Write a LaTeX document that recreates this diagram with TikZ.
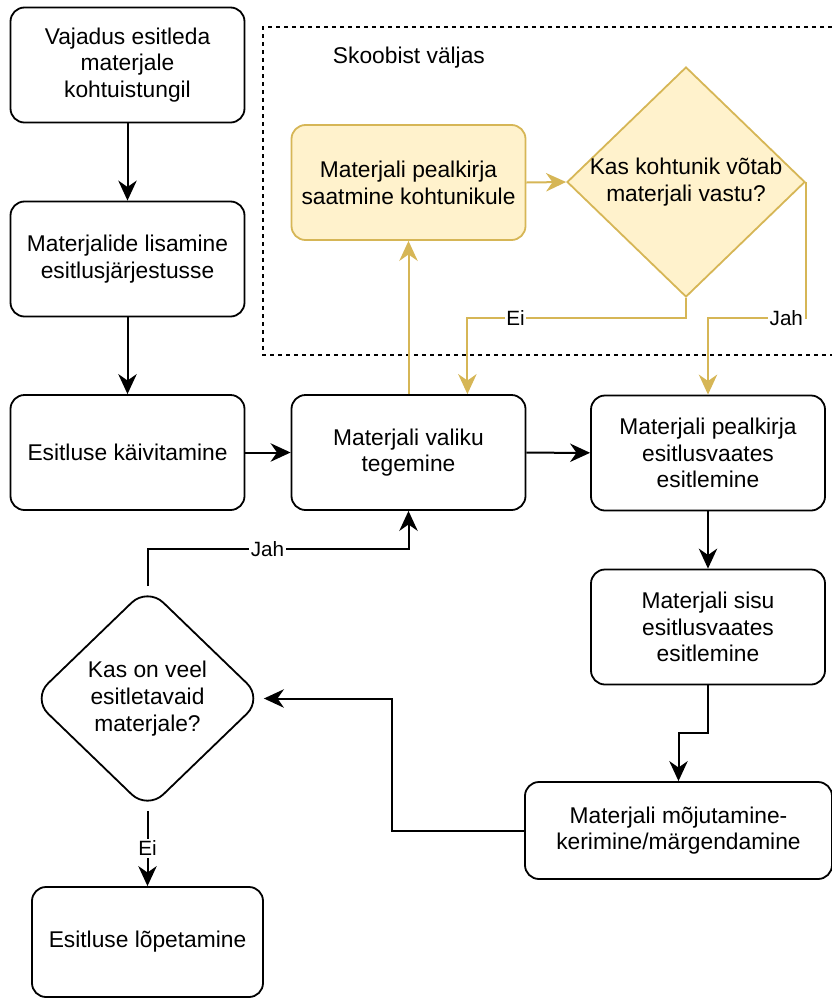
\documentclass[tikz,border=0pt]{standalone}
\usepackage{fontspec}
\setmainfont{Liberation Sans}
\usepackage{xcolor}
\usetikzlibrary{shapes.geometric,arrows.meta,positioning,calc}
\definecolor{gold}{HTML}{D6B656}
\definecolor{goldfill}{HTML}{FFF2CC}
\newcommand{\mainsize}{\fontsize{16.2}{19}\selectfont}
\newcommand{\labelsize}{\fontsize{14.7}{17}\selectfont}

\begin{document}
\begin{tikzpicture}[x=0.25mm, y=-0.25mm,
    stepbox/.style={draw, line width=0.45mm, rounded corners=3.5mm, align=center, inner sep=0pt,
        minimum width=58.5mm, minimum height=28.75mm, font=\mainsize},
    askbox/.style={draw, diamond, line width=0.45mm, align=center, inner sep=-3mm, font=\mainsize},
    outbox/.style={stepbox, draw=gold, fill=goldfill},
    flow/.style={draw, line width=0.5mm, -{Stealth[length=5mm, width=4.6mm, inset=1.6mm]}},
    outflow/.style={flow, draw=gold, color=gold},
    edgelabel/.style={fill=white, inner sep=0.4mm, font=\labelsize, text=black}]
    \useasboundingbox (0,0) rectangle (832,999);

    % Skoobist valjas
    \draw[line width=0.45mm, dash pattern=on 1mm off 1mm] (832,27) -- (263,27) -- (263,355) -- (832,355);
    \node[anchor=west, font=\mainsize] (skoop) at (328,58) {Skoobist väljas};
    \node[outbox] (saatmine) at (408.5,182.5) {Materjali pealkirja\\saatmine kohtunikule};
    \node[askbox, draw=gold, fill=goldfill, aspect=1.035, minimum width=59.5mm, minimum height=57.5mm]
        (votab) at (686,182) {Kas kohtunik võtab\\materjali vastu?};

    % Pohivoog
    \node[stepbox] (vajadus) at (127.5,65) {Vajadus esitleda\\materjale\\kohtuistungil};
    \node[stepbox] (lisamine) at (127.5,259) {Materjalide lisamine\\esitlusjärjestusse};
    \node[stepbox] (kaivitamine) at (127.5,452.5) {Esitluse käivitamine};
    \node[stepbox] (valik) at (408.5,452.5) {Materjali valiku\\tegemine};
    \node[stepbox] (pealkiri) at (708,453) {Materjali pealkirja\\esitlusvaates\\esitlemine};
    \node[stepbox] (sisu) at (708,627) {Materjali sisu\\esitlusvaates\\esitlemine};
    \node[stepbox, minimum width=76.75mm, minimum height=24.25mm] (mojutamine) at (678.5,830.5)
        {Materjali mõjutamine-\\kerimine/märgendamine};
    \node[askbox, rounded corners=5.5mm, aspect=1.036, minimum width=57.75mm, minimum height=55.75mm]
        (veel) at (147.5,698.5) {Kas on veel\\esitletavaid\\materjale?};
    \node[stepbox, minimum width=57.75mm, minimum height=27.5mm] (lopetamine) at (147.5,942)
        {Esitluse lõpetamine};

    \draw[flow] (vajadus) -- (lisamine);
    \draw[flow] (lisamine) -- (kaivitamine);
    \draw[flow] (kaivitamine) -- (valik);
    \draw[flow] (valik) -- (pealkiri);
    \draw[flow] (pealkiri) -- (sisu);
    \draw[flow] (sisu.south) -- ++(0,48) -| (mojutamine.north);
    \draw[flow] (mojutamine.west) -- ++(-132,0) |- (veel.east);
    \draw[flow] (veel.north) -- ++(0,-37) -| node[edgelabel, pos=0.23] {Jah} (valik.south);
    \draw[flow] (veel.south) -- node[edgelabel] {Ei} (lopetamine.north);

    % kohtuniku haru
    \draw[outflow] (valik.north) -- (saatmine.south);
    \draw[outflow] (saatmine.east) -- (votab.west);
    \draw[outflow] (votab.south) -- ++(0,20) -| node[edgelabel, pos=0.39] {Ei} ($(valik.north east)+(-59,0)$);
    \draw[outflow] (votab.east) -- ++(0,136) -| node[edgelabel, pos=0.1] {Jah} (pealkiri.north);
\end{tikzpicture}
\end{document}
